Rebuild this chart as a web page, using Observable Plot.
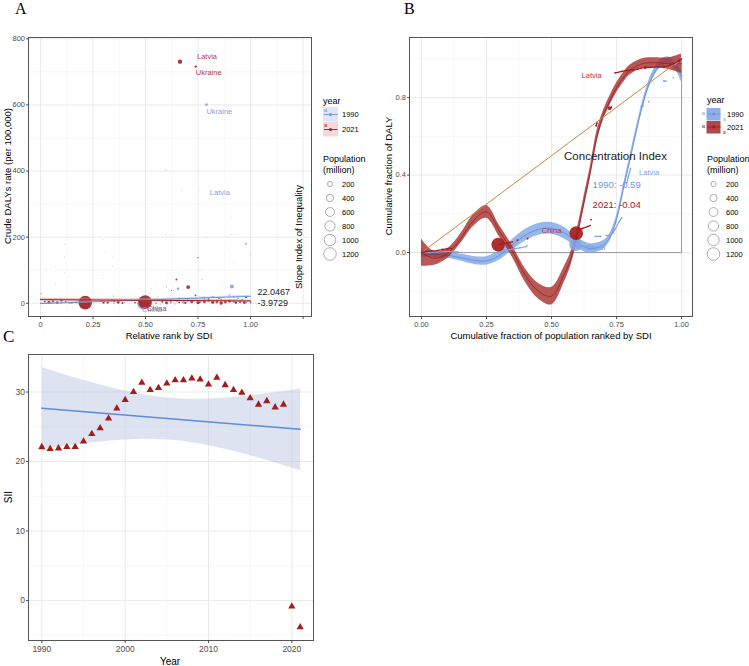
<!DOCTYPE html>
<html><head><meta charset="utf-8">
<script src="https://cdn.jsdelivr.net/npm/d3@7"></script>
<script src="https://cdn.jsdelivr.net/npm/@observablehq/plot@0.6"></script>
<style>
body{margin:0;background:#fff;}
#root{position:relative;width:749px;height:666px;overflow:hidden;}
#root svg{position:absolute;overflow:visible;}
</style></head><body><div id="root"></div>
<script>
const FONT='"Liberation Sans", Arial, Helvetica, sans-serif';
const RED="#A51C1C", BLUE="#6B96DC";

// ---------------- Panel A data ----------------
const aXTicks=[0,0.25,0.5,0.75,1,1.25];
const aXMinor=[0.125,0.375,0.625,0.875,1.125];
const aYTicks=[0,200,400,600,800];
const aYMinor=[100,300,500,700];
// [relative rank, crude DALY rate, population (million)]
const a1990=[[0.79,601,52],[0.753,341,2.6],[0.834,336,3],[0.8,354,2],[0.798,293,2],[0.979,180,30],[0.911,51,125],
 [0.655,44,55],[0.77,72,10],[0.763,102,3],[0.73,115,3],[0.888,165,3],[0.9,140,2],[0.92,120,3],[0.82,90,2],[0.86,60,4],
 [0.95,40,2],[0.96,55,3],[0.49,0,1150],[0.213,0,870],[0.0,1,10],[0.05,2,30],[0.1,0,20],[0.15,1,40],[0.2,0,15],[0.3,1,30],
 [0.35,0,20],[0.4,2,15],[0.45,1,10],[0.52,0,40],[0.55,1,30],[0.58,3,20],[0.6,0,50],[0.62,2,30],[0.65,5,20],[0.68,3,60],
 [0.7,8,30],[0.72,2,40],[0.74,10,20],[0.76,4,50],[0.78,15,30],[0.8,6,40],[0.82,20,25],[0.84,3,60],[0.86,12,30],[0.88,8,40],
 [0.9,25,20],[0.92,5,50],[0.94,15,30],[0.96,10,40],[0.98,2,30],[1.0,0,20],[0.57,-3,10],[0.64,-2,10],[0.7,30,3],[0.74,40,2]];
const a2021=[[0.664,731,145],[0.742,762,2],[0.739,716,43],[0.597,403,5],[0.671,343,3],[0.597,207,3],[0.911,259,3],
 [0.911,208,3],[0.998,148,6],[0.79,198,2],[0.75,138,12],[0.647,72,30],[0.703,49,110],[0.115,177,3],[0.115,140,3],
 [0.115,92,2],[0.024,102,2],[0.071,110,2],[0.071,59,3],[0.003,29,8],[0.3,193,2],[0.303,155,2],[0.343,142,2],[0.343,112,4],
 [0.297,88,2],[0.297,75,2],[0.347,22,8],[0.624,39,8],[0.978,19,40],[0.738,24,25],[0.213,2,1400],[0.498,4,1410],
 [0.02,5,30],[0.04,3,70],[0.06,6,40],[0.08,2,60],[0.1,8,35],[0.12,4,25],[0.14,1,15],[0.17,3,25],[0.3,4,50],[0.32,2,40],
 [0.35,6,35],[0.37,3,60],[0.39,1,30],[0.45,2,20],[0.58,5,30],[0.6,2,50],[0.62,8,40],[0.66,3,25],[0.69,1,35],[0.72,6,70],
 [0.75,2,90],[0.78,4,55],[0.8,12,30],[0.82,3,75],[0.84,5,40],[0.86,1,90],[0.88,3,45],[0.9,7,70],[0.93,2,50],[0.95,4,35],
 [0.97,2,60],[1.0,3,15],[0.66,15,20],[0.7,10,15],[0.77,18,12],[0.85,14,15],[0.56,20,5],[0.52,30,3],[0.53,45,2],[0.55,60,2],
 [0.6,85,2],[0.66,110,2],[0.6,49,6],[0.62,25,4],[0.05,12,10],[0.34,10,12],[0.92,20,10]];
const regYear=["1990","2021"];
const regIntercept=[-1,11];
const regSlope=[22.0467,-3.9729];
const regCI=[3,4];
const siiText=["22.0467","-3.9729"];
const siiTextY=[33,0];
const aLabelText=["Latvia","Ukraine","Ukraine","Latvia","China","China"];
const aLabelYear=["2021","2021","1990","1990","1990","2021"];
const aLabelX=[0.745,0.739,0.79,0.806,0.483,0.507];
const aLabelY=[745,697,580,335,-18,-15];

// ---------------- Panel B data ----------------
const bXTicks=[0,0.25,0.5,0.75,1];
const bXMinor=[0.125,0.375,0.625,0.875];
const bYTicks=[0,0.4,0.8];
const bYMinor=[-0.2,0.2,0.6,1.0];
const redX=[0,0.05,0.1,0.15,0.2,0.25,0.3,0.35,0.4,0.45,0.5,0.55,0.575,0.6,0.625,0.65,0.675,0.7,0.725,0.75,0.775,0.8,0.85,0.9,0.95,1];
const redY=[0.0,-0.03,-0.005,0.07,0.165,0.21,0.11,0.005,-0.12,-0.2,-0.225,-0.11,-0.03,0.1,0.26,0.42,0.6,0.71,0.785,0.85,0.9,0.94,0.975,0.98,0.975,0.975];
const redHW=[0.07,0.035,0.025,0.025,0.03,0.033,0.03,0.03,0.035,0.04,0.045,0.04,0.035,0.03,0.03,0.03,0.03,0.025,0.025,0.025,0.025,0.025,0.025,0.025,0.03,0.05];
const blueX=[0,0.05,0.1,0.15,0.2,0.25,0.3,0.35,0.4,0.45,0.5,0.55,0.6,0.65,0.7,0.725,0.75,0.775,0.8,0.825,0.85,0.875,0.9,0.925,0.95,0.975,1];
const blueY=[-0.005,-0.01,-0.014,-0.026,-0.04,-0.043,-0.014,0.04,0.09,0.12,0.125,0.1,0.05,0.02,0.04,0.08,0.17,0.32,0.47,0.62,0.76,0.87,0.94,0.98,0.99,0.965,0.91];
const blueHW=[0.02,0.015,0.015,0.018,0.02,0.022,0.025,0.028,0.03,0.03,0.03,0.03,0.028,0.025,0.022,0.02,0.02,0.02,0.02,0.02,0.02,0.02,0.02,0.02,0.02,0.02,0.03];
// [cum. population fraction, cum. DALY fraction, population, group]
const b2021=[[0,0,5,1],[0.02,0.005,20,1],[0.04,0.008,30,1],[0.06,0.01,20,1],[0.08,0.015,40,1],[0.1,0.02,30,1],[0.115,0.022,10,1],
 [0.295,0.041,1400,2],[0.31,0.045,20,2],[0.33,0.05,15,2],[0.35,0.055,10,2],[0.369,0.064,25,3],[0.408,0.072,30,4],
 [0.595,0.1,1410,5],[0.61,0.12,40,5],[0.62,0.125,20,5],[0.64,0.135,15,5],[0.65,0.14,10,5],[0.652,0.17,20,6],
 [0.672,0.655,40,7],[0.675,0.668,20,7],[0.723,0.745,110,8],[0.73,0.75,30,8],
 [0.744,0.927,20,9],[0.755,0.93,15,9],[0.77,0.935,20,9],[0.79,0.94,15,9],[0.81,0.943,20,9],[0.83,0.946,15,9],[0.86,0.955,70,9],
 [0.88,0.956,20,9],[0.932,0.958,60,9],[0.95,0.965,20,9],[0.97,0.975,15,9],[0.99,0.99,60,9],[1.0,1.0,10,9]];
const b1990=[[0,0,5,1],[0.03,0,20,1],[0.06,0.003,30,1],[0.09,0.005,20,1],[0.12,0.005,30,1],[0.14,0.004,20,1],
 [0.3,0.005,20,2],[0.32,0.01,15,2],[0.34,0.015,20,2],[0.36,0.02,15,2],[0.38,0.025,20,2],[0.4,0.03,15,2],[0.405,0.035,20,2],
 [0.592,0.04,1150,3],[0.62,0.035,20,3],[0.64,0.03,15,3],[0.66,0.028,20,3],
 [0.668,0.084,25,4],[0.689,0.084,20,4],[0.71,0.088,15,5],[0.725,0.09,20,5],[0.735,0.1,15,5],[0.745,0.12,15,5],[0.76,0.16,15,5],[0.77,0.18,15,5],
 [0.79,0.36,15,6],[0.795,0.39,20,6],[0.804,0.434,15,6],[0.845,0.755,25,7],[0.853,0.755,20,7],[0.874,0.778,20,8],
 [0.932,0.885,30,9],[0.94,0.885,20,9],[0.968,0.902,15,10],[0.975,0.97,20,11],[1.0,1.0,25,11]];
const bLabelText=["Latvia","Latvia","China","China"];
const bLabelYear=["2021","1990","2021","1990"];
const bLabelX=[0.654,0.875,0.5,0.669];
const bLabelY=[0.913,0.411,0.113,0.027];
const eqX=[0,1], eqY=[0,1];          // line of equality
const triX=[0,1,1], triY=[0,0,1];    // reference triangle edges
const ciYears=["1990","2021"];
const ciValues=[-0.59,-0.04];

// ---------------- Panel C data ----------------
const cYears=[1990,1991,1992,1993,1994,1995,1996,1997,1998,1999,2000,2001,2002,2003,2004,2005,2006,2007,2008,2009,2010,2011,2012,2013,2014,2015,2016,2017,2018,2019,2020,2021];
const cSII=[22.08,21.8,21.9,22.1,22.1,22.9,23.96,24.8,26.2,27.65,28.85,30.0,31.35,30.3,30.6,31.25,31.7,31.7,31.97,31.8,31.1,32.07,31.0,30.3,29.9,29.1,28.2,28.7,27.8,28.2,-0.86,-3.84];
const cXTicks=[1990,2000,2010,2020];
const cXMinor=[1995,2005,2015];
const cYTicks=[0,10,20,30];
const cYMinor=[-5,5,15,25,35];

const popLegend=[200,400,600,800,1000,1200];
const rScaleOpt={type:"sqrt",domain:[0,1400],range:[0,6.8]};
const colorOf=y=>y==="1990"?BLUE:RED;

const root=document.getElementById("root");
const baseStyle={fontFamily:FONT,fontSize:"8px",color:"#4d4d4d",background:"transparent",overflow:"visible"};
const gridMarks=(xMaj,xMin,yMaj,yMin)=>[
  Plot.ruleX(xMin,{stroke:"#f3f3f3",strokeWidth:0.6}),
  Plot.ruleY(yMin,{stroke:"#f3f3f3",strokeWidth:0.6}),
  Plot.ruleX(xMaj,{stroke:"#e8e8e8",strokeWidth:0.9}),
  Plot.ruleY(yMaj,{stroke:"#e8e8e8",strokeWidth:0.9})
];
function place(el,left,top){el.style.left=left+"px";el.style.top=top+"px";root.appendChild(el);}

// ---------- Plot A ----------
const rowsA=(arr,year)=>arr.map(([x,y,pop])=>({x,y,pop,year}));
const regRows=regYear.flatMap((yr,i)=>[0,1].map(x=>{const y=regIntercept[i]+regSlope[i]*x;return {year:yr,x,y,lo:y-regCI[i],hi:y+regCI[i]};}));
const aLabels=aLabelText.map((t,i)=>({t,year:aLabelYear[i],x:aLabelX[i],y:aLabelY[i]}));
const siiRows=siiText.map((t,i)=>({t,y:siiTextY[i]}));
const plotA=Plot.plot({
  width:320,height:345,marginLeft:28,marginRight:9,marginTop:37,marginBottom:29,
  x:{domain:[-0.057,1.29]},y:{domain:[-40,804]},r:rScaleOpt,style:baseStyle,
  marks:[
    ...gridMarks(aXTicks,aXMinor,aYTicks,aYMinor),
    Plot.dot(rowsA(a1990,"1990"),{x:"x",y:"y",r:"pop",fill:"#6E9BE2",fillOpacity:0.8}),
    Plot.dot(rowsA(a2021,"2021"),{x:"x",y:"y",r:"pop",fill:RED,fillOpacity:0.88}),
    Plot.areaY(regRows.filter(d=>d.year==="1990"),{x:"x",y1:"lo",y2:"hi",fill:"#9DB8E8",fillOpacity:0.45}),
    Plot.areaY(regRows.filter(d=>d.year==="2021"),{x:"x",y1:"lo",y2:"hi",fill:"#DE8E8E",fillOpacity:0.5}),
    Plot.line(regRows.filter(d=>d.year==="1990"),{x:"x",y:"y",stroke:BLUE,strokeWidth:1}),
    Plot.line(regRows.filter(d=>d.year==="2021"),{x:"x",y:"y",stroke:RED,strokeWidth:1}),
    Plot.text(aLabels,{x:"x",y:"y",text:"t",fill:d=>d.year==="1990"?"#7FA3E3":"#B5383A",fontSize:7.5,textAnchor:"start"}),
    Plot.text(siiRows,{x:()=>1.033,y:"y",text:"t",fill:"#1a1a1a",fontSize:9,textAnchor:"start"}),
    Plot.frame({stroke:"#555",strokeWidth:1}),
    Plot.axisX(aXTicks,{tickFormat:d=>d===0?"0":(d>1.2?"":d.toFixed(2)),tickSize:3,tickPadding:2,label:null,fontSize:7.5}),
    Plot.axisY(aYTicks,{tickSize:2,tickPadding:1.5,label:null,fontSize:7.5})
  ]
});
place(plotA,0,0);

// ---------- Plot B ----------
const curveRows=(xs,ys,hw)=>xs.map((x,i)=>({x,y:ys[i],lo:ys[i]-hw[i],hi:ys[i]+hw[i]}));
const redCurve=curveRows(redX,redY,redHW), blueCurve=curveRows(blueX,blueY,blueHW);
const rowsB=(arr,year)=>arr.map(([x,y,pop,g])=>({x,y,pop,g,year}));
const pB90=rowsB(b1990,"1990"), pB21=rowsB(b2021,"2021");
const eqRows=eqX.map((x,i)=>({x,y:eqY[i]}));
const triRows=triX.map((x,i)=>({x,y:triY[i]}));
const bLabels=bLabelText.map((t,i)=>({t,year:bLabelYear[i],x:bLabelX[i],y:bLabelY[i]}));
const ciRows=ciYears.map((yr,i)=>({year:yr,t:`${yr}: ${ciValues[i].toFixed(2)}`}));
const plotB=Plot.plot({
  width:330,height:345,marginLeft:39,marginRight:8,marginTop:37,marginBottom:29,
  x:{domain:[-0.046,1.042]},y:{domain:[-0.33,1.11]},r:rScaleOpt,style:baseStyle,
  marks:[
    ...gridMarks(bXTicks,bXMinor,bYTicks,bYMinor),
    Plot.line(triRows,{x:"x",y:"y",stroke:"#9a9a9a",strokeWidth:1}),
    Plot.areaY(blueCurve,{x:"x",y1:"lo",y2:"hi",fill:"#7DA4E4",fillOpacity:0.8,curve:"catmull-rom"}),
    Plot.line(blueCurve,{x:"x",y:"y",stroke:"#5C8AD6",strokeWidth:0.8,curve:"catmull-rom"}),
    Plot.areaY(redCurve,{x:"x",y1:"lo",y2:"hi",fill:"#A52626",fillOpacity:0.78,curve:"catmull-rom"}),
    Plot.line(redCurve,{x:"x",y:"y",stroke:"#8E1B1B",strokeWidth:0.7,curve:"catmull-rom"}),
    Plot.line(eqRows,{x:"x",y:"y",stroke:"#CD853F",strokeWidth:1}),
    Plot.line(pB90,{x:"x",y:"y",z:"g",stroke:"#7FA5E3",strokeWidth:1.2}),
    Plot.dot(pB90,{x:"x",y:"y",r:"pop",fill:"#7FA5E3",fillOpacity:0.9}),
    Plot.line(pB21,{x:"x",y:"y",z:"g",stroke:RED,strokeWidth:1.2}),
    Plot.dot(pB21,{x:"x",y:"y",r:"pop",fill:RED,fillOpacity:0.92}),
    Plot.text(bLabels,{x:"x",y:"y",text:"t",fill:d=>d.year==="1990"?"#7FA3E3":"#B5383A",fontSize:7.5}),
    Plot.text(["Concentration Index"],{x:()=>0.746,y:()=>0.495,text:d=>d,fill:"#1a1a1a",fontSize:11.5}),
    Plot.text(ciRows,{x:()=>0.658,y:d=>d.year==="1990"?0.349:0.248,text:"t",fill:d=>colorOf(d.year),fontSize:9.5,textAnchor:"start"}),
    Plot.frame({stroke:"#555",strokeWidth:1}),
    Plot.axisX(bXTicks,{tickFormat:d3.format(".2f"),tickSize:3,tickPadding:2,label:null,fontSize:7.5}),
    Plot.axisY(bYTicks,{tickFormat:d3.format(".1f"),tickSize:2,tickPadding:1.5,label:null,fontSize:7.5})
  ]
});
place(plotB,370,0);

// ---------- Plot C ----------
const cRows=cYears.map((yr,i)=>({year:yr,sii:cSII[i]}));
const plotC=Plot.plot({
  width:320,height:366,marginLeft:28,marginRight:7,marginTop:54,marginBottom:26,
  x:{domain:[1988.4,2022.6]},y:{domain:[-5.76,35.4]},style:{...baseStyle,fontSize:"8.5px"},
  marks:[
    ...gridMarks(cXTicks,cXMinor,cYTicks,cYMinor),
    Plot.linearRegressionY(cRows,{x:"year",y:"sii",stroke:"#5B8DD9",strokeWidth:1.5,fill:"#b4c2e0",fillOpacity:0.45,ci:0.95}),
    Plot.dot(cRows,{x:"year",y:"sii",symbol:"triangle",r:2.7,fill:RED,stroke:"none"}),
    Plot.frame({stroke:"#555",strokeWidth:1}),
    Plot.axisX(cXTicks,{tickFormat:d=>String(d),tickSize:3,tickPadding:2,label:null,fontSize:8.5}),
    Plot.axisY(cYTicks,{tickSize:2,tickPadding:1.5,label:null,fontSize:8.5})
  ]
});
place(plotC,0,300);

// ---------- overlay: titles, legends ----------
const ov=d3.select(root).append("svg").attr("width",749).attr("height",666)
  .style("left","0px").style("top","0px").style("font-family",FONT);
function txt(x,y,s,o={}){
  const t=ov.append("text").attr("x",x).attr("y",y).text(s)
    .attr("font-size",o.size||9.5).attr("fill",o.fill||"#000")
    .attr("text-anchor",o.anchor||"start").attr("dominant-baseline",o.base||"central");
  if(o.rotate) t.attr("transform",`rotate(-90 ${x} ${y})`);
  if(o.family) t.attr("font-family",o.family);
  return t;
}
const SERIF='"Liberation Serif", "Times New Roman", serif';
txt(15,14,"A",{size:16,family:SERIF,base:"auto"});
txt(404,14,"B",{size:16,family:SERIF,base:"auto"});
txt(3,342,"C",{size:17,family:SERIF,base:"auto"});

txt(169,335.5,"Relative rank by SDI",{anchor:"middle"});
txt(7,176,"Crude DALYs rate (per 100,000)",{anchor:"middle",rotate:true});
txt(298,237,"Slope Index of Inequality",{anchor:"middle",rotate:true});
txt(551,335.5,"Cumulative fraction of population ranked by SDI",{anchor:"middle"});
txt(388,176,"Cumulative fraction of DALY",{anchor:"middle",rotate:true});
txt(170,661,"Year",{anchor:"middle",size:10});
txt(8,497,"SII",{anchor:"middle",rotate:true,size:10});

const rS=d3.scaleSqrt().domain(rScaleOpt.domain).range(rScaleOpt.range);
// legend A
txt(323,101,"year",{size:9});
[["1990","#DCE6F6",BLUE],["2021","#F3D9D9",RED]].forEach(([lab,bg,c],i)=>{
  const y0=107+i*15;
  ov.append("rect").attr("x",323).attr("y",y0).attr("width",15).attr("height",14.5).attr("fill",bg);
  txt(324,y0+3,"a",{size:5.5,fill:c});
  ov.append("line").attr("x1",324).attr("x2",337.5).attr("y1",y0+7.5).attr("y2",y0+7.5).attr("stroke",c).attr("stroke-width",0.9);
  ov.append("circle").attr("cx",330.5).attr("cy",y0+7.5).attr("r",1.5).attr("fill",c);
  txt(342,y0+7.5,lab,{size:7.5});
});
txt(323,159,"Population",{size:9});
txt(323,170,"(million)",{size:9});
popLegend.forEach((p,i)=>{
  const y=184+i*14;
  ov.append("circle").attr("cx",330).attr("cy",y).attr("r",rS(p)).attr("fill","none").attr("stroke","#777").attr("stroke-width",0.6);
  txt(342,y,String(p),{size:7.5});
});
// legend B
txt(707,100,"year",{size:9});
[["1990","#8FB0E6",BLUE,"#7FA5E3"],["2021","#B04848",RED,RED]].forEach(([lab,bg,c,pc],i)=>{
  const y0=108+i*13;
  ov.append("rect").attr("x",706.5).attr("y",y0).attr("width",14).attr("height",12.5).attr("fill",bg);
  txt(703.3,y0+5,"a",{size:6,fill:pc,anchor:"middle"});
  ov.append("line").attr("x1",707).attr("x2",720.5).attr("y1",y0+6).attr("y2",y0+6).attr("stroke",c).attr("stroke-width",0.9);
  ov.append("circle").attr("cx",713.7).attr("cy",y0+6).attr("r",1.5).attr("fill",c);
  txt(724.3,y0+11,"a",{size:5,fill:pc,anchor:"middle"});
  txt(727,y0+6.5,lab,{size:7.5});
});
txt(707,159,"Population",{size:9});
txt(707,170,"(million)",{size:9});
popLegend.forEach((p,i)=>{
  const y=184+i*14;
  ov.append("circle").attr("cx",713.5).attr("cy",y).attr("r",rS(p)).attr("fill","none").attr("stroke","#777").attr("stroke-width",0.6);
  txt(726,y,String(p),{size:7.5});
});
</script></body></html>
